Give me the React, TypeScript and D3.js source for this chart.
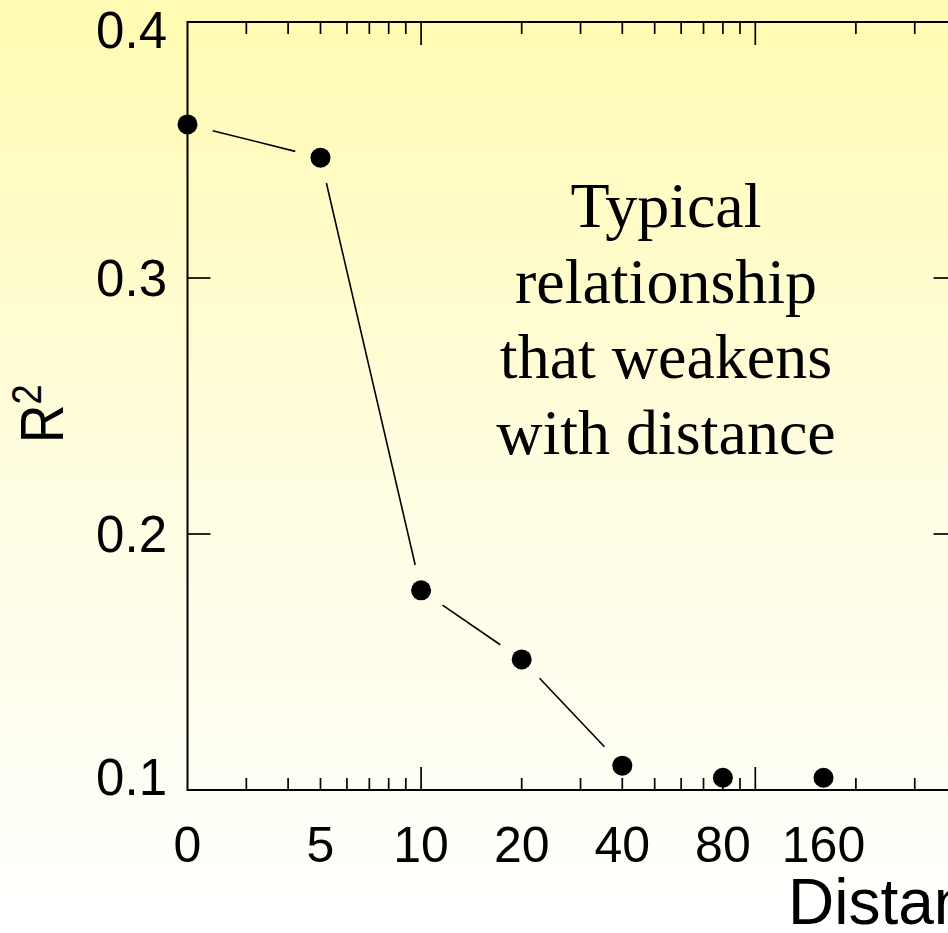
import React, { useEffect, useRef } from 'react';
import * as d3 from 'd3';

// distance classes (the first one, labelled "0", sits at the start of the log axis)
const distanceLabels = ['0', '5', '10', '20', '40', '80', '160'];
const distances = [2, 5, 10, 20, 40, 80, 160];
const r2Values = [0.36, 0.347, 0.178, 0.151, 0.1095, 0.1048, 0.1048];
const connectedCount = 5; // only the first points are joined by line segments

const yTickValues = [0.1, 0.2, 0.3, 0.4];
const annotationLines = ['Typical', 'relationship', 'that weakens', 'with distance'];

const W = 948;
const H = 933;

function App() {
  const ref = useRef<SVGSVGElement>(null);

  useEffect(() => {
    const svg = d3.select(ref.current);
    svg.selectAll('*').remove();

    const x = d3.scaleLog().domain([2, 400]).range([187.5, 956.5]);
    const y = d3.scaleLinear().domain([0.1, 0.4]).range([790, 22]);

    const defs = svg.append('defs');
    const grad = defs
      .append('linearGradient')
      .attr('id', 'bg')
      .attr('x1', 0).attr('y1', 0)
      .attr('x2', 0).attr('y2', 1);
    grad.append('stop').attr('offset', '0%').attr('stop-color', '#fffbb2');
    grad.append('stop').attr('offset', '50%').attr('stop-color', '#fffde0');
    grad.append('stop').attr('offset', '100%').attr('stop-color', '#ffffff');

    svg.append('rect').attr('width', W).attr('height', H).attr('fill', 'url(#bg)');

    const [x0, x1] = x.range();
    const [yb, yt] = y.range();

    // frame
    svg
      .append('rect')
      .attr('x', x0)
      .attr('y', yt)
      .attr('width', x1 - x0)
      .attr('height', yb - yt)
      .attr('fill', 'none')
      .attr('stroke', '#000')
      .attr('stroke-width', 2);

    // log ticks along bottom and top (inward)
    const xTicks = x.ticks().filter(v => v > 2 && v < 400);
    const isMajor = (v: number) => Math.abs(Math.log10(v) - Math.round(Math.log10(v))) < 1e-9;
    const ticksG = svg.append('g').attr('stroke', '#000').attr('stroke-width', 1.7);
    xTicks.forEach(v => {
      const len = isMajor(v) ? 23 : 12;
      ticksG.append('line').attr('x1', x(v)).attr('x2', x(v)).attr('y1', yb).attr('y2', yb - len);
      ticksG.append('line').attr('x1', x(v)).attr('x2', x(v)).attr('y1', yt).attr('y2', yt + len);
    });
    yTickValues.forEach(v => {
      ticksG.append('line').attr('x1', x0).attr('x2', x0 + 23).attr('y1', y(v)).attr('y2', y(v));
      ticksG.append('line').attr('x1', x1).attr('x2', x1 - 23).attr('y1', y(v)).attr('y2', y(v));
    });

    // y tick labels, kept inside the plot's vertical span
    const labelY = (v: number) => Math.min(Math.max(y(v), yt + 8), yb - 13);
    svg
      .append('g')
      .selectAll('text')
      .data(yTickValues)
      .enter()
      .append('text')
      .attr('x', 167)
      .attr('y', d => labelY(d) + 18)
      .attr('text-anchor', 'end')
      .attr('font-family', '"Liberation Sans", Arial, sans-serif')
      .attr('font-size', 51)
      .text(d => d3.format('.1f')(d));

    // x category labels
    svg
      .append('g')
      .selectAll('text')
      .data(distanceLabels)
      .enter()
      .append('text')
      .attr('x', (d, i) => x(distances[i]))
      .attr('y', 862)
      .attr('text-anchor', 'middle')
      .attr('font-family', '"Liberation Sans", Arial, sans-serif')
      .attr('font-size', 50)
      .text(d => d);

    // connecting segments with gaps around the markers
    const gap = 26;
    const pts = distances.map((d, i) => [x(d), y(r2Values[i])]);
    for (let i = 0; i < connectedCount - 1; i++) {
      const [ax, ay] = pts[i];
      const [bx, by] = pts[i + 1];
      const len = Math.hypot(bx - ax, by - ay);
      const ux = (bx - ax) / len;
      const uy = (by - ay) / len;
      svg
        .append('line')
        .attr('x1', ax + ux * gap)
        .attr('y1', ay + uy * gap)
        .attr('x2', bx - ux * gap)
        .attr('y2', by - uy * gap)
        .attr('stroke', '#000')
        .attr('stroke-width', 1.6);
    }

    svg
      .append('g')
      .selectAll('circle')
      .data(pts)
      .enter()
      .append('circle')
      .attr('cx', d => d[0])
      .attr('cy', d => d[1])
      .attr('r', 10)
      .attr('fill', '#000');

    // annotation
    svg
      .append('g')
      .selectAll('text')
      .data(annotationLines)
      .enter()
      .append('text')
      .attr('x', 666)
      .attr('y', (d, i) => 227 + i * 75.5)
      .attr('text-anchor', 'middle')
      .attr('font-family', '"Liberation Serif", "Times New Roman", serif')
      .attr('font-size', 64)
      .text(d => d);

    // y axis title
    const yTitle = svg
      .append('text')
      .attr('transform', 'translate(63,443) rotate(-90) scale(0.86,1)')
      .attr('font-family', '"Liberation Sans", Arial, sans-serif')
      .attr('font-size', 62);
    yTitle.append('tspan').text('R');
    yTitle.append('tspan').attr('font-size', 42).attr('dy', -22).text('2');

    // x axis title (runs off the right edge)
    svg
      .append('text')
      .attr('x', 788)
      .attr('y', 924)
      .attr('font-family', '"Liberation Sans", Arial, sans-serif')
      .attr('font-size', 64)
      .text('Distance');
  }, []);

  return (
    <svg
      ref={ref}
      width={W}
      height={H}
      style={{ position: 'absolute', left: 0, top: 0 }}
    />
  );
}

export default App;
